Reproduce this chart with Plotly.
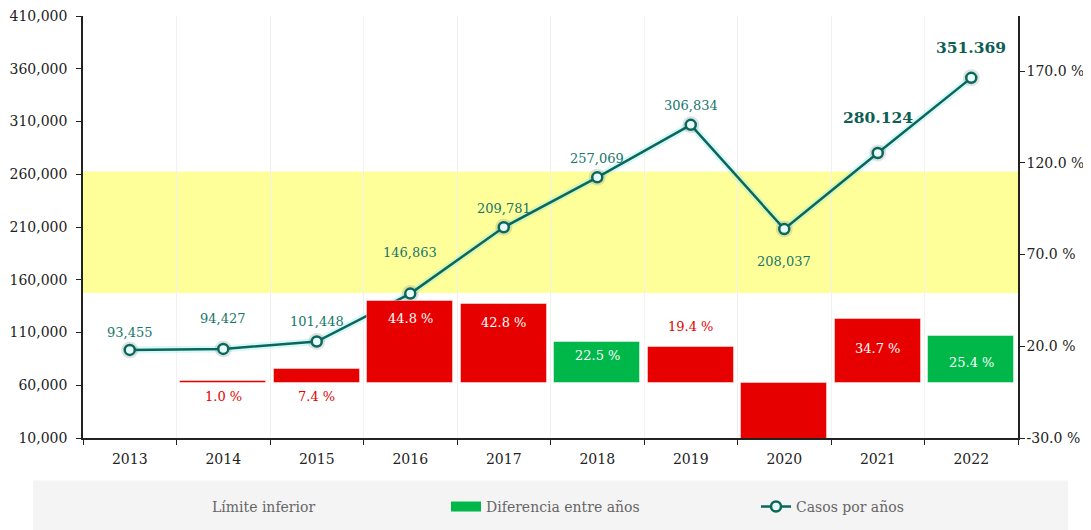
import plotly.graph_objects as go

# ---------------- data ----------------
years = ["2013", "2014", "2015", "2016", "2017", "2018", "2019", "2020", "2021", "2022"]
cases = [93455, 94427, 101448, 146863, 209781, 257069, 306834, 208037, 280124, 351369]
pct_change = [None, 1.0, 7.4, 44.8, 42.8, 22.5, 19.4, -32.2, 34.7, 25.4]
bar_colors = ["#e60000", "#e60000", "#e60000", "#e60000", "#e60000", "#00b84a",
              "#e60000", "#e60000", "#e60000", "#00b84a"]
highlight = [False] * 8 + [True, True]
band_low = 147500
band_high = 262500

left_ticks = list(range(10000, 410001, 50000))
right_ticks = [-30, 20, 70, 120, 170]

# ---------------- styles ----------------
LINE_C = "#0b665b"
LABEL_C = "#17766b"
FONT = "DejaVu Serif"
# per-point label vertical offsets (px, + = up)
case_label_shift = [17, 30, 20, 41, 19, 19, 19, -32, 36, 30]
# percent label placement: 'in' inside top, 'out' above, 'below' under base, None
pct_pos = [None, "below", "below", "in", "in", "in", "out", None, "in", "in"]
pct_shift = [0, 0, 0, 18, 18, 14, 21, 0, 29, 26]

# page body has an 8px margin; plot area in page px: x 83..1018, y 16..438.5
OFF = 8
PL, PR, PT, PB = 83, 1018, 16, 438.5
PW, PH = PR - PL, PB - PT


def px_x(p):
    return (p - PL) / PW


def px_y(p):
    return (PB - p) / PH


fig = go.Figure()

# yellow band
fig.add_shape(type="rect", xref="paper", yref="y", x0=0, x1=1, y0=band_low, y1=band_high,
              fillcolor="#ffff99", line_width=0, layer="below")
# legend grey background
fig.add_shape(type="rect", xref="paper", yref="paper",
              x0=px_x(33), x1=px_x(1068), y0=px_y(531), y1=px_y(481),
              fillcolor="#f4f4f4", line_width=0, layer="below")

# bars (percent change) on right axis
fig.add_trace(go.Bar(
    x=years, y=pct_change, base=0, yaxis="y2",
    marker=dict(color=bar_colors, line=dict(color="rgba(255,255,255,0.45)", width=1)),
    width=0.915, showlegend=False, hoverinfo="x+y",
))

# glow under line
fig.add_trace(go.Scatter(
    x=years, y=cases, mode="lines+markers",
    line=dict(color="rgba(140,235,235,0.35)", width=7),
    marker=dict(size=17, color="rgba(120,140,140,0.25)"),
    showlegend=False, hoverinfo="skip",
))
# main line
fig.add_trace(go.Scatter(
    x=years, y=cases, mode="lines+markers", name="Casos por años",
    line=dict(color=LINE_C, width=2.5),
    marker=dict(size=10, color="#e8fbf8", line=dict(color=LINE_C, width=2.5)),
    legend="legend3",
))

# legend dummies
fig.add_trace(go.Scatter(x=[years[0]], y=[None], mode="markers", name="Límite inferior",
                         marker=dict(color="rgba(0,0,0,0)", size=1), legend="legend"))
fig.add_trace(go.Scatter(x=[years[0]], y=[None], mode="lines", name="Diferencia entre años",
                         line=dict(color="#00b84a", width=10), legend="legend2"))

annotations = []
# case labels
for i, v in enumerate(cases):
    if highlight[i]:
        txt = "<b>" + f"{v:,}".replace(",", ".") + "</b>"
        font = dict(family=FONT, size=15.5, color="#0d5e55")
    else:
        txt = f"{v:,}"
        font = dict(family=FONT, size=13, color=LABEL_C)
    annotations.append(dict(x=i, y=v, xref="x", yref="y", text=txt, showarrow=False,
                            yanchor="middle", yshift=case_label_shift[i], font=font))

# percent labels
for i, p in enumerate(pct_change):
    pos = pct_pos[i]
    if p is None or pos is None:
        continue
    txt = f"{p:.1f} %"
    if pos == "in":
        annotations.append(dict(x=i, y=p, xref="x", yref="y2", text=txt, showarrow=False,
                                yanchor="middle", yshift=-pct_shift[i],
                                font=dict(family=FONT, size=13, color="white")))
    elif pos == "out":
        annotations.append(dict(x=i, y=p, xref="x", yref="y2", text=txt, showarrow=False,
                                yanchor="middle", yshift=pct_shift[i],
                                font=dict(family=FONT, size=13, color="#e60000")))
    else:
        annotations.append(dict(x=i, y=0, xref="x", yref="y2", text=txt, showarrow=False,
                                yanchor="middle", yshift=-14,
                                font=dict(family=FONT, size=13, color="#e60000")))

leg_common = dict(orientation="h", yanchor="middle", y=px_y(507.5),
                  xanchor="left", bgcolor="rgba(0,0,0,0)",
                  font=dict(family=FONT, size=14, color="#666666"))

W, H = 1091 - OFF, 530 - OFF
fig.update_layout(
    width=W, height=H,
    margin=dict(l=PL - OFF, r=W + OFF - PR, t=PT - OFF, b=H + OFF - PB, autoexpand=False),
    paper_bgcolor="white", plot_bgcolor="rgba(0,0,0,0)",
    font=dict(family=FONT, size=14, color="#222222"),
    bargap=0,
    annotations=annotations,
    legend=dict(**leg_common, x=px_x(172)),
    legend2=dict(**leg_common, x=px_x(446)),
    legend3=dict(**leg_common, x=px_x(756)),
    xaxis=dict(type="category", range=[-0.5, 9.5], tickson="boundaries", ticks="outside",
               ticklen=5, tickcolor="#222", showline=True, linecolor="#222", linewidth=1.5,
               showgrid=True, gridcolor="#f1f1f1", gridwidth=1, tickangle=0,
               ticklabelstandoff=7,
               tickfont=dict(family=FONT, size=14, color="#222")),
    yaxis=dict(range=[10000, 410000], tickvals=left_ticks, tickformat=",",
               ticklabeloverflow="allow",
               showgrid=False, zeroline=False, showline=True, linecolor="#222", linewidth=1.5,
               ticks="outside", ticklen=5, tickcolor="#222", ticklabelstandoff=6,
               tickfont=dict(family=FONT, size=14, color="#222")),
    yaxis2=dict(range=[-30, 200], tickvals=right_ticks,
                ticktext=[f"{v:.1f} %" for v in right_ticks], ticklabeloverflow="allow",
                overlaying="y", side="right", showgrid=False, zeroline=False,
                showline=True, linecolor="#222", linewidth=1.5,
                ticks="outside", ticklen=5, tickcolor="#222", ticklabelstandoff=-1,
                tickfont=dict(family=FONT, size=14, color="#222")),
)

fig.write_html("out.html")
